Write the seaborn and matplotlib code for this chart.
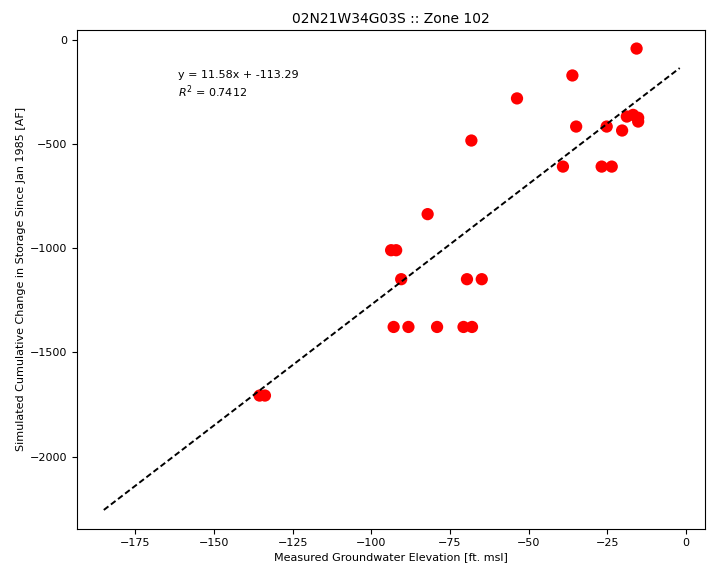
import matplotlib
matplotlib.use("Agg")
import matplotlib.pyplot as plt
import seaborn as sns
import pandas as pd
import numpy as np

# Measured groundwater elevation [ft msl]
measured = [-15.7, -36.1, -53.7, -68.2, -34.9, -25.2, -20.3, -18.8, -16.8, -15.2, -15.2,
            -39.1, -26.8, -23.6, -82.1, -93.7, -92.1, -90.5, -69.6, -64.9,
            -92.9, -88.2, -79.1, -70.7, -68.0, -135.5, -133.8]
# Simulated cumulative change in storage [AF]
simulated = [-43, -172, -282, -484, -417, -417, -436, -369, -361, -375, -393,
             -609, -609, -609, -837, -1010, -1010, -1149, -1149, -1149,
             -1378, -1378, -1378, -1378, -1378, -1707, -1707]

slope = 11.58
intercept = -113.29
r2 = 0.7412
fit_x_range = [-185, -2]

title = "02N21W34G03S :: Zone 102"
xlabel = "Measured Groundwater Elevation [ft. msl]"
ylabel = "Simulated Cumulative Change in Storage Since Jan 1985 [AF]"

df = pd.DataFrame({"measured": measured, "simulated": simulated})
fit_x = np.array(fit_x_range, dtype=float)
fit_df = pd.DataFrame({"x": fit_x, "y": slope * fit_x + intercept})

fig = plt.figure(figsize=(7.07, 5.69), dpi=100)
ax = fig.add_axes([0.109, 0.071, 0.888, 0.877])

sns.lineplot(data=fit_df, x="x", y="y", ax=ax, color="black",
             linewidth=1.4, zorder=3)
ax.lines[-1].set_dashes((3, 1.6))
sns.scatterplot(data=df, x="measured", y="simulated", ax=ax, color="red",
                s=78, edgecolor="none", zorder=2)

ax.set_xlim(-193.5, 6)
ax.set_ylim(-2345, 48)
ax.set_xticks([-175, -150, -125, -100, -75, -50, -25, 0])
ax.set_yticks([0, -500, -1000, -1500, -2000])
ax.tick_params(labelsize=8)
ax.set_xlabel(xlabel, fontsize=8, labelpad=3)
ax.set_ylabel(ylabel, fontsize=8, labelpad=3)
ax.set_title(title, fontsize=10, pad=5)

ax.text(0.161, 0.902, f"y = {slope:.2f}x + {intercept:.2f}", transform=ax.transAxes,
        fontsize=8, va="baseline")
ax.text(0.161, 0.866, f"$R^2$ = {r2:.4f}", transform=ax.transAxes,
        fontsize=8, va="baseline")

fig.savefig("out.png", dpi=100)
